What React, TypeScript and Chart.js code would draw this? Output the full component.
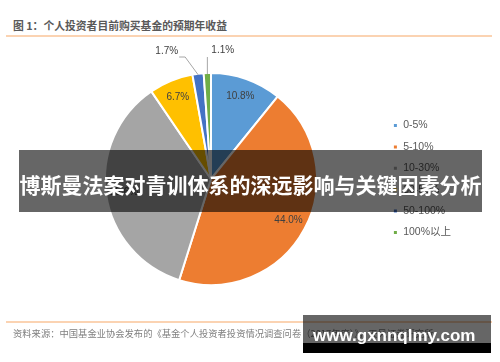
import React, { useEffect, useRef } from 'react';
import { Chart, registerables } from 'chart.js';

Chart.register(...registerables);

// ---- data ----
const categories = ['0-5%', '5-10%', '10-30%', '30-50%', '50-100%', '100%以上'];
const values = [10.8, 44.0, 35.6, 6.7, 1.7, 1.1];
const valueLabels = ['10.8%', '44.0%', '35.6%', '6.7%', '1.7%', '1.1%'];
const colors = ['#5B9BD5', '#ED7D31', '#A5A5A5', '#FFC000', '#4472C4', '#70AD47'];
const titleText = '图 1：个人投资者目前购买基金的预期年收益';
const sourceText = '资料来源：中国基金业协会发布的《基金个人投资者投资情况调查问卷（2017年度）》，天风证券研究所';
const bannerText = '博斯曼法案对青训体系的深远影响与关键因素分析';
const watermarkText = 'www.gxnnqlmy.com';

// label styling (outside labels for small slices)
const insideThreshold = 5;
const elbowShift = [0, 0, 0, 0, -13, 0];
const outsideSide = [0, 0, 0, 0, -1, 1];

const NUM_FONT = '"Liberation Sans", Arial, "Noto Sans CJK SC", sans-serif';
const CJK_FONT = '"Noto Sans CJK SC", "Microsoft YaHei", sans-serif';

const labelPlugin = {
  id: 'sliceLabels',
  afterDatasetsDraw(chart: any) {
    const ctx = chart.ctx;
    const meta = chart.getDatasetMeta(0);
    ctx.save();
    ctx.font = `10px ${NUM_FONT}`;
    ctx.fillStyle = '#404040';
    ctx.strokeStyle = '#A6A6A6';
    ctx.lineWidth = 1;
    meta.data.forEach((arc: any, i: number) => {
      const { x, y, startAngle, endAngle, outerRadius } = arc.getProps(
        ['x', 'y', 'startAngle', 'endAngle', 'outerRadius'],
        true
      );
      const mid = (startAngle + endAngle) / 2;
      const text = valueLabels[i];
      if (values[i] >= insideThreshold) {
        const r = outerRadius * 0.83;
        ctx.textAlign = 'center';
        ctx.textBaseline = 'middle';
        ctx.fillText(text, x + Math.cos(mid) * r, y + Math.sin(mid) * r);
      } else {
        const px = x + Math.cos(mid) * (outerRadius - 1);
        const py = y + Math.sin(mid) * (outerRadius - 1);
        const ex = px + elbowShift[i];
        const ey = y - outerRadius - 16;
        ctx.beginPath();
        if (outsideSide[i] < 0) {
          ctx.moveTo(ex - 6, ey);
          ctx.lineTo(ex, ey);
          ctx.lineTo(px, py);
          ctx.stroke();
          ctx.textAlign = 'right';
          ctx.textBaseline = 'middle';
          ctx.fillText(text, ex - 7, ey - 6);
        } else {
          ctx.moveTo(ex, ey);
          ctx.lineTo(px, py);
          ctx.stroke();
          ctx.textAlign = 'left';
          ctx.textBaseline = 'middle';
          ctx.fillText(text, ex + 4, ey - 7);
        }
      }
    });
    ctx.restore();
  },
};

export default function App() {
  const canvasRef = useRef<HTMLCanvasElement | null>(null);

  useEffect(() => {
    if (!canvasRef.current) return;
    const chart = new Chart(canvasRef.current, {
      type: 'pie',
      data: {
        labels: categories,
        datasets: [
          {
            data: values,
            backgroundColor: colors,
            borderColor: '#ffffff',
            borderWidth: 2,
            hoverOffset: 0,
            radius: 106,
          } as any,
        ],
      },
      options: {
        animation: false,
        responsive: false,
        maintainAspectRatio: false,
        devicePixelRatio: 1,
        layout: { padding: { left: 40, right: 39, top: 60, bottom: 64 } },
        plugins: {
          tooltip: { enabled: false },
          legend: {
            position: 'right',
            align: 'center',
            labels: {
              boxWidth: 5,
              boxHeight: 5,
              padding: 10.9,
              color: '#595959',
              font: { size: 10.5, family: NUM_FONT },
            },
          },
        },
      } as any,
      plugins: [labelPlugin],
    });
    return () => chart.destroy();
  }, []);

  return (
    <div
      style={{
        position: 'absolute',
        left: 0,
        top: 0,
        width: 500,
        height: 362,
        background: '#ffffff',
        overflow: 'hidden',
      }}
    >
      <div
        style={{
          position: 'absolute',
          left: 13,
          top: 18,
          fontFamily: CJK_FONT,
          fontSize: 10.8,
          lineHeight: '14px',
          fontWeight: 'bold',
          color: '#595959',
          whiteSpace: 'nowrap',
        }}
      >
        {titleText}
      </div>
      <div style={{ position: 'absolute', left: 6, top: 35, width: 486, height: 2, background: '#FBD3B2' }} />
      <canvas
        ref={canvasRef}
        width={500}
        height={362}
        style={{ position: 'absolute', left: 0, top: 0, width: 500, height: 362 }}
      />
      <div style={{ position: 'absolute', left: 6, top: 321, width: 486, height: 2, background: '#FBD3B2' }} />
      <div
        style={{
          position: 'absolute',
          left: 13,
          top: 326,
          fontFamily: CJK_FONT,
          fontSize: 9.3,
          lineHeight: '14px',
          color: '#7F7F7F',
          whiteSpace: 'nowrap',
        }}
      >
        {sourceText}
      </div>
      <div
        style={{
          position: 'absolute',
          left: 19,
          top: 150,
          width: 463,
          height: 62,
          background: 'rgba(0,0,0,0.6)',
        }}
      >
        <div
          style={{
            position: 'absolute',
            left: 0,
            top: 3,
            width: 463,
            height: 62,
            lineHeight: '62px',
            textAlign: 'center',
            fontFamily: CJK_FONT,
            fontWeight: 'bold',
            fontSize: 21,
            color: '#ffffff',
            whiteSpace: 'nowrap',
          }}
        >
          {bannerText}
        </div>
      </div>
      <div
        style={{
          position: 'absolute',
          left: 303,
          top: 315,
          width: 188,
          height: 28,
          background: 'rgba(0,0,0,0.6)',
        }}
      />
      <div style={{ position: 'absolute', left: 303, top: 343, width: 188, height: 10, background: '#000000' }} />
      <div
        style={{
          position: 'absolute',
          left: 313,
          top: 327,
          fontFamily: '"Liberation Sans", Arial, sans-serif',
          fontWeight: 'bold',
          fontSize: 17,
          lineHeight: '17px',
          color: '#ffffff',
          whiteSpace: 'nowrap',
        }}
      >
        {watermarkText}
      </div>
    </div>
  );
}
